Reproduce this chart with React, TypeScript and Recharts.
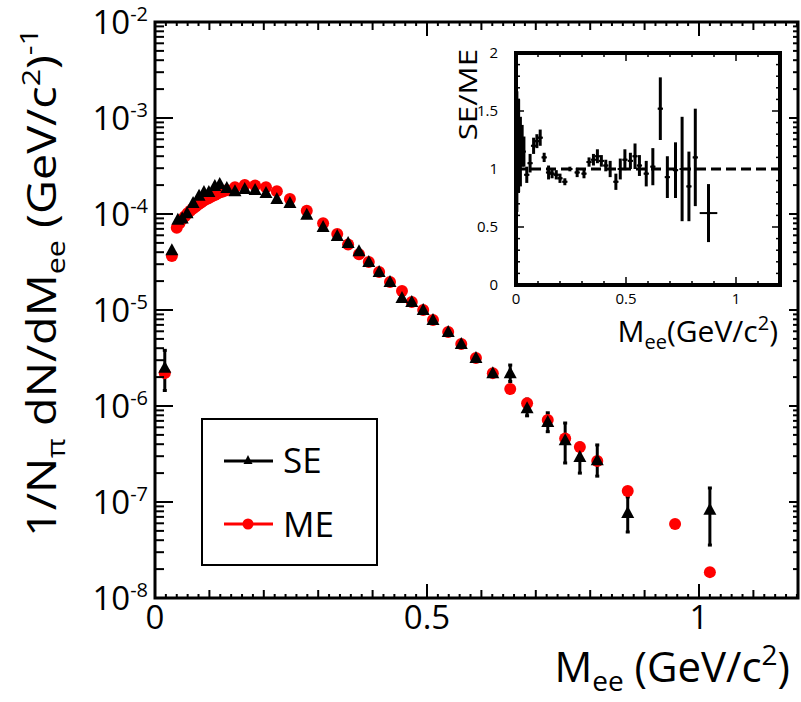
import React from "react";
import {
  ErrorBar,
  ReferenceArea,
  ReferenceLine,
  Scatter,
  ScatterChart,
  XAxis,
  YAxis,
} from "recharts";

const FONT = "'Open Sans', 'DejaVu Sans', sans-serif";

// same-event pairs (SE), 1/N dN/dM
const seMass = [
  0.018, 0.031, 0.042, 0.05, 0.059, 0.07, 0.081, 0.09, 0.099, 0.11, 0.119,
  0.132, 0.147, 0.165, 0.184, 0.204, 0.224, 0.248, 0.279, 0.309, 0.335, 0.355,
  0.375, 0.393, 0.412, 0.432, 0.454, 0.472, 0.493, 0.511, 0.539, 0.563, 0.59,
  0.621, 0.653, 0.684, 0.722, 0.754, 0.781, 0.813, 0.869, 1.02,
];
const seYield = [
  2.5e-6, 4.2e-5, 8.7e-5, 9.0e-5, 1.02e-4, 1.3e-4, 1.55e-4, 1.7e-4, 1.7e-4,
  1.96e-4, 2.05e-4, 1.87e-4, 1.73e-4, 1.82e-4, 1.78e-4, 1.65e-4, 1.43e-4,
  1.3e-4, 9.8e-5, 7.3e-5, 5.9e-5, 5.0e-5, 4.1e-5, 3.16e-5, 2.49e-5, 1.96e-5,
  1.33e-5, 1.21e-5, 1.0e-5, 7.87e-6, 5.9e-6, 4.43e-6, 3.16e-6, 2.2e-6, 2.2e-6,
  9.5e-7, 6.8e-7, 4.4e-7, 2.95e-7, 2.73e-7, 7.7e-8, 8.3e-8,
];
// visible error bars only (null = smaller than marker)
const seErrDown: (number | null)[] = [
  1.05e-6, null, null, null, null, null, null, null, null, null, null, null,
  null, null, null, null, null, null, null, null, null, null, null, null, null,
  null, null, null, null, null, null, null, null, null, 4.0e-7, 1.6e-7, 1.4e-7,
  1.85e-7, 9.5e-8, 8.7e-8, 2.83e-8, 4.74e-8,
];
const seErrUp: (number | null)[] = [
  1.3e-6, null, null, null, null, null, null, null, null, null, null, null,
  null, null, null, null, null, null, null, null, null, null, null, null, null,
  null, null, null, null, null, null, null, null, null, 4.7e-7, 2.3e-7, 1.7e-7,
  2.25e-7, 1.15e-7, 1.2e-7, 3.6e-8, 5.7e-8,
];

// mixed-event pairs (ME)
const meMass = [
  0.018, 0.031, 0.04, 0.045, 0.05, 0.055, 0.06, 0.065, 0.07, 0.075, 0.08,
  0.085, 0.09, 0.095, 0.1, 0.105, 0.11, 0.115, 0.12, 0.125, 0.132, 0.147,
  0.165, 0.184, 0.204, 0.224, 0.248, 0.279, 0.309, 0.335, 0.355, 0.375, 0.393,
  0.412, 0.432, 0.454, 0.472, 0.493, 0.511, 0.539, 0.563, 0.59, 0.621, 0.653,
  0.684, 0.722, 0.754, 0.781, 0.813, 0.869, 0.956, 1.02,
];
const meYield = [
  2.2e-6, 3.65e-5, 7.2e-5, 8.0e-5, 8.8e-5, 9.5e-5, 1.02e-4, 1.08e-4, 1.14e-4,
  1.2e-4, 1.26e-4, 1.32e-4, 1.38e-4, 1.43e-4, 1.48e-4, 1.53e-4, 1.58e-4,
  1.63e-4, 1.68e-4, 1.72e-4, 1.77e-4, 1.9e-4, 2.0e-4, 1.98e-4, 1.9e-4, 1.73e-4,
  1.43e-4, 1.08e-4, 8.0e-5, 6.2e-5, 4.8e-5, 3.8e-5, 3.16e-5, 2.49e-5, 1.96e-5,
  1.58e-5, 1.21e-5, 1.0e-5, 7.87e-6, 5.9e-6, 4.43e-6, 3.16e-6, 2.2e-6, 1.5e-6,
  1.07e-6, 7.15e-7, 4.6e-7, 3.74e-7, 2.67e-7, 1.3e-7, 5.9e-8, 1.86e-8,
];

// inset: SE/ME ratio
const ratioMass = [
  0.004, 0.012, 0.02, 0.028, 0.036, 0.049, 0.064, 0.08, 0.095, 0.11, 0.128,
  0.148, 0.164, 0.183, 0.2, 0.222, 0.245, 0.278, 0.309, 0.332, 0.352, 0.37,
  0.388, 0.408, 0.428, 0.454, 0.474, 0.495, 0.52, 0.541, 0.561, 0.592, 0.622,
  0.656, 0.688, 0.725, 0.755, 0.786, 0.815, 0.875,
];
const ratioValue = [
  1.15, 1.2, 1.15, 1.2, 1.15, 0.95, 1.05, 1.2, 1.24, 1.27, 1.1, 0.97, 0.96,
  0.95, 0.92, 0.89, 1.0, 0.97, 0.96, 1.06, 1.08, 1.11, 1.07, 1.03, 1.0, 0.89,
  1.0, 1.08, 1.07, 1.11, 1.03, 0.96, 1.02, 1.52, 0.93, 0.99, 1.0, 0.85, 1.1,
  0.62,
];
const ratioErr = [
  0.52, 0.4, 0.3, 0.18, 0.13, 0.07, 0.08, 0.07, 0.06, 0.07, 0.04, 0.06, 0.04,
  0.04, 0.04, 0.03, 0.02, 0.04, 0.04, 0.04, 0.05, 0.06, 0.05, 0.05, 0.07,
  0.07, 0.09, 0.09, 0.07, 0.11, 0.09, 0.11, 0.16, 0.27, 0.18, 0.24, 0.45,
  0.3, 0.42, 0.25,
];
const ratioBinHalf = [
  0.004, 0.004, 0.004, 0.004, 0.004, 0.012, 0.012, 0.012, 0.012, 0.012, 0.012,
  0.012, 0.012, 0.012, 0.012, 0.012, 0.012, 0.012, 0.012, 0.012, 0.012, 0.012,
  0.012, 0.012, 0.012, 0.012, 0.012, 0.012, 0.012, 0.012, 0.012, 0.012, 0.012,
  0.012, 0.012, 0.012, 0.012, 0.012, 0.012, 0.04,
];

const xLabels = [0, 0.5, 1];
const yDecades = [-8, -7, -6, -5, -4, -3, -2];
const insetXLabels = [0, 0.5, 1];
const insetYLabels = [0, 0.5, 1, 1.5, 2];

const seData = seMass.map((x, i) => ({
  x,
  y: seYield[i],
  err: seErrDown[i] == null ? undefined : [seErrDown[i], seErrUp[i]],
}));
const meData = meMass.map((x, i) => ({ x, y: meYield[i] }));
const ratioData = ratioMass.map((x, i) => ({
  x,
  y: ratioValue[i],
  err: ratioErr[i],
  xerr: ratioBinHalf[i],
}));

// main plot frame (px)
const W = 801;
const H = 702;
const PL = 155;
const PR = 798;
const PT = 22;
const PB = 598;
const XMAX = 1.182;

const xTicks: number[] = [];
for (let k = 0; k <= 59; k++) xTicks.push(k / 50);
const yTicks: number[] = [];
yDecades.forEach((e) => {
  if (e === -2) yTicks.push(1e-2);
  else for (let k = 1; k <= 9; k++) yTicks.push(k * Math.pow(10, e));
});

const MainXTick = (p: any) => {
  const v = p.payload.value;
  const k = Math.round(v * 50);
  const len = k % 25 === 0 ? 14 : k % 5 === 0 ? 8 : 4;
  const show = xLabels.some((l) => Math.abs(l - v) < 1e-6);
  return (
    <g>
      <line x1={p.x} x2={p.x} y1={PB} y2={PB - len} stroke="#000" strokeWidth={2} />
      <line x1={p.x} x2={p.x} y1={PT} y2={PT + len} stroke="#000" strokeWidth={2} />
      {show && (
        <text x={p.x} y={PB + 31} textAnchor="middle" fontSize={33} fontFamily={FONT} fill="#000">
          {String(v)}
        </text>
      )}
    </g>
  );
};

const MainYTick = (p: any) => {
  const lg = Math.log10(p.payload.value);
  const e = Math.round(lg);
  const major = Math.abs(lg - e) < 1e-6;
  return (
    <g>
      <line x1={PL} x2={PL + (major ? 18 : 9)} y1={p.y} y2={p.y} stroke="#000" strokeWidth={2} />
      <line x1={PR} x2={PR - (major ? 9 : 5)} y1={p.y} y2={p.y} stroke="#000" strokeWidth={2} />
      {major && (
        <text x={PL - 7} y={p.y + 12} textAnchor="end" fontSize={33} fontFamily={FONT} fill="#000">
          10
          <tspan dy={-13} fontSize={20}>
            {String(e)}
          </tspan>
        </text>
      )}
    </g>
  );
};

const Triangle = (p: any) => (
  <polygon
    points={`${p.cx},${p.cy - 7} ${p.cx - 6.5},${p.cy + 5} ${p.cx + 6.5},${p.cy + 5}`}
    fill="#000"
  />
);
const Dot = (p: any) => <circle cx={p.cx} cy={p.cy} r={6} fill="#ff0000" />;
const RatioMark = (p: any) => (
  <line x1={p.cx - 2} x2={p.cx + 2} y1={p.cy} y2={p.cy} stroke="#000" strokeWidth={2} />
);

// inset frame (local px)
const IW = 350;
const IH = 320;
const IL = 76;
const IR = 340;
const IT = 23;
const IB = 255;

const insetXTicks: number[] = [];
for (let k = 0; k <= 12; k++) insetXTicks.push(k / 10);
const insetYTicks: number[] = [];
for (let k = 0; k <= 20; k++) insetYTicks.push(k / 10);

const InsetXTick = (p: any) => {
  const v = p.payload.value;
  const major = Math.round(v * 10) % 5 === 0;
  const len = major ? 8 : 4;
  const show = insetXLabels.some((l) => Math.abs(l - v) < 1e-6);
  return (
    <g>
      <line x1={p.x} x2={p.x} y1={IB} y2={IB - len} stroke="#000" strokeWidth={1.5} />
      <line x1={p.x} x2={p.x} y1={IT} y2={IT + len} stroke="#000" strokeWidth={1.5} />
      {show && (
        <text x={p.x} y={IB + 19} textAnchor="middle" fontSize={15} fontFamily={FONT} fill="#000">
          {String(v)}
        </text>
      )}
    </g>
  );
};

const InsetYTick = (p: any) => {
  const v = p.payload.value;
  const major = Math.round(v * 10) % 5 === 0;
  const len = major ? 8 : 4;
  const show = insetYLabels.some((l) => Math.abs(l - v) < 1e-6);
  return (
    <g>
      <line x1={IL} x2={IL + len} y1={p.y} y2={p.y} stroke="#000" strokeWidth={1.5} />
      <line x1={IR} x2={IR - len} y1={p.y} y2={p.y} stroke="#000" strokeWidth={1.5} />
      {show && (
        <text x={IL - 18} y={p.y + 5} textAnchor="end" fontSize={15} fontFamily={FONT} fill="#000">
          {String(v)}
        </text>
      )}
    </g>
  );
};

export default function App() {
  return (
    <div
      style={{
        position: "absolute",
        left: 0,
        top: 0,
        width: W,
        height: H,
        background: "#fff",
        fontFamily: FONT,
      }}
    >
      <ScatterChart width={W} height={H} margin={{ top: PT, right: W - PR, bottom: 0, left: 0 }}>
        <XAxis
          type="number"
          dataKey="x"
          domain={[0, XMAX]}
          ticks={xTicks}
          interval={0}
          height={H - PB}
          axisLine={false}
          tickLine={false}
          tick={MainXTick}
          allowDataOverflow
        />
        <YAxis
          type="number"
          dataKey="y"
          scale="log"
          domain={[1e-8, 1e-2]}
          ticks={yTicks}
          interval={0}
          width={PL}
          axisLine={false}
          tickLine={false}
          tick={MainYTick}
          allowDataOverflow
        />
        <ReferenceArea
          x1={0}
          x2={XMAX}
          y1={1e-8}
          y2={1e-2}
          fill="none"
          fillOpacity={0}
          stroke="#000"
          strokeWidth={3}
          ifOverflow="visible"
        />
        <Scatter data={meData} shape={Dot} isAnimationActive={false} />
        <Scatter data={seData} shape={Triangle} isAnimationActive={false}>
          <ErrorBar dataKey="err" direction="y" width={2} strokeWidth={3} stroke="#000" />
        </Scatter>
      </ScatterChart>

      <div style={{ position: "absolute", left: 440, top: 30 }}>
        <ScatterChart width={IW} height={IH} margin={{ top: IT, right: IW - IR, bottom: 0, left: 0 }}>
          <XAxis
            type="number"
            dataKey="x"
            domain={[0, 1.2]}
            ticks={insetXTicks}
            interval={0}
            height={IH - IB}
            axisLine={false}
            tickLine={false}
            tick={InsetXTick}
            allowDataOverflow
          />
          <YAxis
            type="number"
            dataKey="y"
            domain={[0, 2]}
            ticks={insetYTicks}
            interval={0}
            width={IL}
            axisLine={false}
            tickLine={false}
            tick={InsetYTick}
            allowDataOverflow
          />
          <ReferenceLine y={1} stroke="#000" strokeWidth={3} strokeDasharray="10 5" />
          <ReferenceArea
            x1={0}
            x2={1.2}
            y1={0}
            y2={2}
            fill="none"
            fillOpacity={0}
            stroke="#000"
            strokeWidth={4}
            ifOverflow="visible"
          />
          <Scatter data={ratioData} shape={RatioMark} isAnimationActive={false}>
            <ErrorBar dataKey="err" direction="y" width={0} strokeWidth={3} stroke="#000" />
            <ErrorBar dataKey="xerr" direction="x" width={0} strokeWidth={2} stroke="#000" />
          </Scatter>
        </ScatterChart>
      </div>

      <svg
        width={W}
        height={H}
        style={{ position: "absolute", left: 0, top: 0, pointerEvents: "none" }}
      >
        {/* axis titles */}
        <text
          transform="translate(56 28) rotate(-90) scale(1.17 1)"
          x={0}
          y={0}
          textAnchor="end"
          fontSize={40}
          fontFamily={FONT}
          fill="#000"
        >
          1/N
          <tspan dy={9} fontSize={26}>π</tspan>
          <tspan dy={-9}> dN/dM</tspan>
          <tspan dy={9} fontSize={26}>ee</tspan>
          <tspan dy={-9}> (GeV/c</tspan>
          <tspan dy={-16} fontSize={26}>2</tspan>
          <tspan dy={16}>)</tspan>
          <tspan dy={-18} fontSize={26}>-1</tspan>
        </text>
        <text x={790} y={682} textAnchor="end" fontSize={42} fontFamily={FONT} fill="#000">
          M
          <tspan dy={9} fontSize={28}>ee</tspan>
          <tspan dy={-9}> (GeV/c</tspan>
          <tspan dy={-17} fontSize={28}>2</tspan>
          <tspan dy={17}>)</tspan>
        </text>
        <text
          transform="translate(477 49) rotate(-90) scale(1.2 1)"
          x={0}
          y={0}
          textAnchor="end"
          fontSize={26}
          fontFamily={FONT}
          fill="#000"
        >
          SE/ME
        </text>
        <text x={778} y={342} textAnchor="end" fontSize={30} fontFamily={FONT} fill="#000">
          M
          <tspan dy={7} fontSize={20}>ee</tspan>
          <tspan dy={-7}>(GeV/c</tspan>
          <tspan dy={-12} fontSize={20}>2</tspan>
          <tspan dy={12}>)</tspan>
        </text>

        {/* legend */}
        <rect x={202} y={419} width={175} height={146} fill="#fff" stroke="#000" strokeWidth={2} />
        <line x1={224} x2={273} y1={461} y2={461} stroke="#000" strokeWidth={3} />
        <polygon points="248,455 243.5,464 252.5,464" fill="#000" />
        <text x={283} y={473} fontSize={35} fontFamily={FONT} fill="#000">
          SE
        </text>
        <line x1={224} x2={273} y1={524} y2={524} stroke="#ff0000" strokeWidth={3} />
        <circle cx={248} cy={524} r={5.5} fill="#ff0000" />
        <text x={283} y={537} fontSize={35} fontFamily={FONT} fill="#000">
          ME
        </text>
      </svg>
    </div>
  );
}
